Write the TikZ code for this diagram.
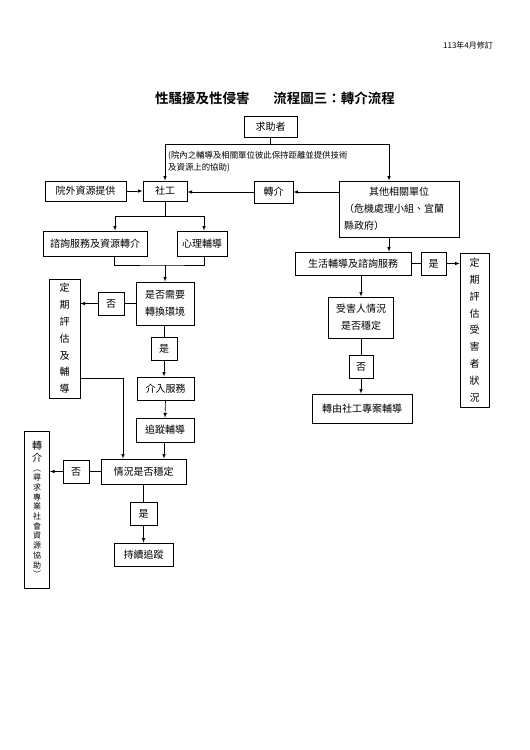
\documentclass[tikz,border=0pt]{standalone}
\usepackage{fontspec}
\setmainfont{Noto Sans CJK TC}[BoldFont={Noto Sans CJK TC Bold}]
\usepackage{tikz}
\usetikzlibrary{arrows,positioning,calc}

\begin{document}
\begin{tikzpicture}[x=1pt,y=-1pt,>=latex,
    boite/.style={draw, line width=0.8pt, inner sep=0pt, font=\fontsize{10}{12}\selectfont},
    vert/.style={boite, align=center, font=\fontsize{10}{16.8}\selectfont},
    lien/.style={line width=0.6pt}]
    \useasboundingbox (0,0) rectangle (530,750);

    % En-tete et titre
    \node (date) at (468,45) {\fontsize{8}{9}\selectfont 113年4月修訂};
    \node (titre) at (275,98) {\fontsize{13.5}{16}\selectfont\bfseries 性騷擾及性侵害\hspace{24pt}流程圖三：轉介流程};

    % Haut du schema
    \node[boite, minimum width=53, minimum height=21] (qiu) at (270.5,126.5) {求助者};
    \node[anchor=north west, align=left, inner sep=0pt, font=\fontsize{8.4}{12}\selectfont] (note) at (168,151)
        {(院內之輔導及相關單位彼此保持距離並提供技術\\及資源上的協助)};
    \node[boite, minimum width=44, minimum height=20] (shegong) at (165,191) {社工};
    \node[boite, minimum width=81, minimum height=20] (yuanwai) at (85.5,191) {院外資源提供};
    \node[boite, minimum width=39, minimum height=22] (zhuanjie) at (273.5,192) {轉介};
    \node[boite, text width=110, minimum width=120, minimum height=56, align=left, font=\fontsize{10}{17}\selectfont] (qita) at (399,209)
        {\hfil 其他相關單位\hfil\\（危機處理小組、宜蘭\\縣政府）};

    % Colonne de gauche
    \node[boite, minimum width=104, minimum height=25] (zixun) at (95,243.5) {諮詢服務及資源轉介};
    \node[boite, minimum width=50, minimum height=25] (xinli) at (202,243.5) {心理輔導};
    \node[boite, minimum width=58, minimum height=43, align=center, font=\fontsize{10}{17}\selectfont] (shifou) at (165,303.5) {是否需要\\轉換環境};
    \node[boite, minimum width=26, minimum height=23] (fouA) at (111,303.5) {否};
    \node[vert, minimum width=31, minimum height=119] (dingqiA) at (64.5,338.5) {定\\期\\評\\估\\及\\輔\\導};
    \node[boite, minimum width=26, minimum height=23] (shiA) at (164,348.5) {是};
    \node[boite, minimum width=57, minimum height=23] (jieru) at (165.5,388.5) {介入服務};
    \node[boite, minimum width=58, minimum height=24] (zhuizong) at (165,430) {追蹤輔導};
    \node[boite, minimum width=85, minimum height=25] (qingkuang) at (143.5,471.5) {情況是否穩定};
    \node[boite, minimum width=26, minimum height=23] (fouB) at (76,471.5) {否};
    \node[boite, minimum width=25, minimum height=157, align=center, font=\fontsize{8}{9.7}\selectfont] (zhuanjieB) at (37,509.5)
        {{\fontsize{10}{12}\selectfont 轉}\\[2pt]{\fontsize{10}{12}\selectfont 介}\\︵\\尋\\求\\專\\業\\社\\會\\資\\源\\協\\助\\︶};
    \node[boite, minimum width=27, minimum height=23] (shiB) at (143.5,513.5) {是};
    \node[boite, minimum width=59, minimum height=23] (chixu) at (143.5,554.5) {持續追蹤};

    % Colonne de droite
    \node[boite, minimum width=116, minimum height=23] (shenghuo) at (353,263.5) {生活輔導及諮詢服務};
    \node[boite, minimum width=25, minimum height=23] (shiC) at (433.5,263.5) {是};
    \node[vert, minimum width=29, minimum height=154] (dingqiC) at (474.5,330) {定\\期\\評\\估\\受\\害\\者\\狀\\況};
    \node[boite, minimum width=65, minimum height=41, align=center, font=\fontsize{10}{17}\selectfont] (shouhai) at (361,317.5) {受害人情況\\是否穩定};
    \node[boite, minimum width=24, minimum height=23] (fouC) at (361,366.5) {否};
    \node[boite, minimum width=100, minimum height=29] (zhuanyou) at (362,408.5) {轉由社工專案輔導};

    % Liens du haut
    \draw[lien] (qiu.south) -- ++(0,7) coordinate (fourche);
    \draw[lien, ->] (fourche) -| (shegong.north);
    \draw[lien, ->] (fourche) -| ([xshift=-10pt]qita.north);
    \draw[lien, ->] (yuanwai.east) -- (shegong.west);
    \draw[lien, ->] (qita.west |- zhuanjie) -- (zhuanjie.east);
    \draw[lien, ->] (zhuanjie.west) -- (zhuanjie.west -| shegong.east);
    \draw[lien] (shegong.south) -- ++(0,15) coordinate (fourche2);
    \draw[lien, ->] (fourche2) -| ([xshift=20pt]zixun.north);
    \draw[lien, ->] (fourche2) -| ([xshift=2pt]xinli.north);

    % Liens de gauche
    \coordinate (jonction) at (165,265);
    \draw[lien] ([xshift=19pt]zixun.south) |- (jonction) -| ([xshift=2pt]xinli.south);
    \draw[lien, ->] (jonction) -- (shifou.north);
    \draw[lien] (shifou.west) -- (fouA.east);
    \draw[lien, ->] (fouA.west) -- (fouA.west -| dingqiA.east);
    \draw[lien] (shifou.south -| shiA) -- (shiA.north);
    \draw[lien, ->] (shiA.south) -- (shiA.south |- jieru.north);
    \draw[lien, ->] (jieru.south) -- (zhuizong.north);
    \draw[lien, ->] ([xshift=-1pt]zhuizong.south) -- ([xshift=-1pt]zhuizong.south |- qingkuang.north);
    \coordinate (coude) at (123,378);
    \draw[lien, ->] (dingqiA.east |- coude) -- (coude) -- (coude |- qingkuang.north);
    \draw[lien] (qingkuang.west) -- (fouB.east);
    \draw[lien, ->] (fouB.west) -- (fouB.west -| zhuanjieB.east);
    \draw[lien] (qingkuang.south) -- (shiB.north);
    \draw[lien, ->] (shiB.south) -- (chixu.north);

    % Liens de droite
    \draw[lien, ->] ([xshift=-10pt]qita.south) -- ([xshift=-10pt]qita.south |- shenghuo.north);
    \draw[lien] (shenghuo.east) -- (shiC.west);
    \draw[lien, ->] (shiC.east) -- (shiC.east -| dingqiC.west);
    \draw[lien, ->] (shenghuo.south -| shouhai) -- (shouhai.north);
    \draw[lien] (shouhai.south) -- (fouC.north);
    \draw[lien, ->] (fouC.south) -- (fouC.south |- zhuanyou.north);
\end{tikzpicture}
\end{document}
